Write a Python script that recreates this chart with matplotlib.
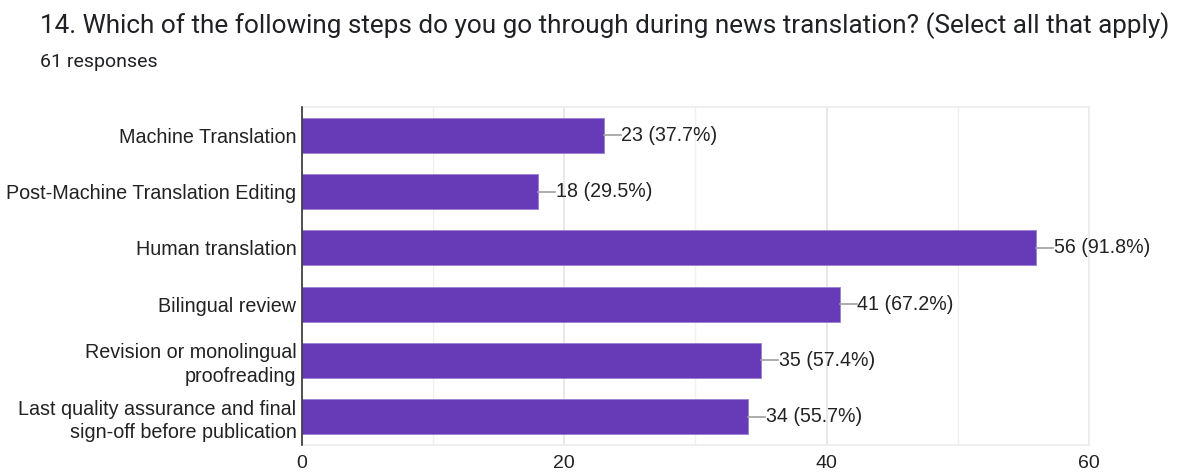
import matplotlib.pyplot as plt
import numpy as np

# survey question 14 results
steps = [
    "Machine Translation",
    "Post-Machine Translation Editing",
    "Human translation",
    "Bilingual review",
    "Revision or monolingual\nproofreading",
    "Last quality assurance and final\nsign-off before publication",
]
counts = [23, 18, 56, 41, 35, 34]
percents = [37.7, 29.5, 91.8, 67.2, 57.4, 55.7]
total_responses = 61

purple = "#673ab7"
label_font = "Liberation Sans"

fig = plt.figure(figsize=(11.77, 4.75), dpi=100)
ax = fig.add_axes([0.2566, 0.0632, 0.6685, 0.7115])

y = np.arange(len(steps))
ax.barh(y, counts, height=0.62, color=purple, edgecolor="#9a7fd1", linewidth=0.6, zorder=3)

# leader line + value label next to each bar
for yi, c, p in zip(y, counts, percents):
    ax.plot([c, c + 1.3], [yi, yi], color="#9e9e9e", linewidth=1.2, zorder=3)
    ax.text(c + 1.35, yi, f"{c} ({p}%)", va="center", ha="left",
            fontsize=14.1, family=label_font, color="#222222")

ax.set_xlim(0, 60)
ax.set_ylim(len(steps) - 0.5, -0.5)
ax.set_yticks(y)
ax.set_yticklabels(steps, fontsize=14.2, family=label_font, color="#222222", linespacing=1.3)
ax.set_xticks([0, 20, 40, 60])
ax.set_xticks([10, 30, 50], minor=True)
ax.tick_params(axis="x", which="both", length=0, labelsize=14, pad=7, labelcolor="#222222")
ax.tick_params(axis="y", length=0, pad=4)
for lbl in ax.get_xticklabels():
    lbl.set_family(label_font)

ax.grid(axis="x", which="major", color="#e4e4e4", linewidth=1.2, zorder=0)
ax.grid(axis="x", which="minor", color="#f0f0f0", linewidth=1.0, zorder=0)
ax.set_axisbelow(True)

for side in ["top", "right", "bottom"]:
    ax.spines[side].set_color("#ececec")
    ax.spines[side].set_linewidth(1.2)
ax.spines["left"].set_color("#333333")
ax.spines["left"].set_linewidth(1.2)
ax.spines["left"].set_zorder(4)

fig.text(0.034, 0.947, "14. Which of the following steps do you go through during news translation? (Select all that apply)",
         fontsize=18.8, family="Roboto", color="#202124", va="center")
fig.text(0.034, 0.87, f"{total_responses} responses", fontsize=14, family="Roboto",
         color="#202124", va="center")

fig.savefig("out.png", dpi=100)
